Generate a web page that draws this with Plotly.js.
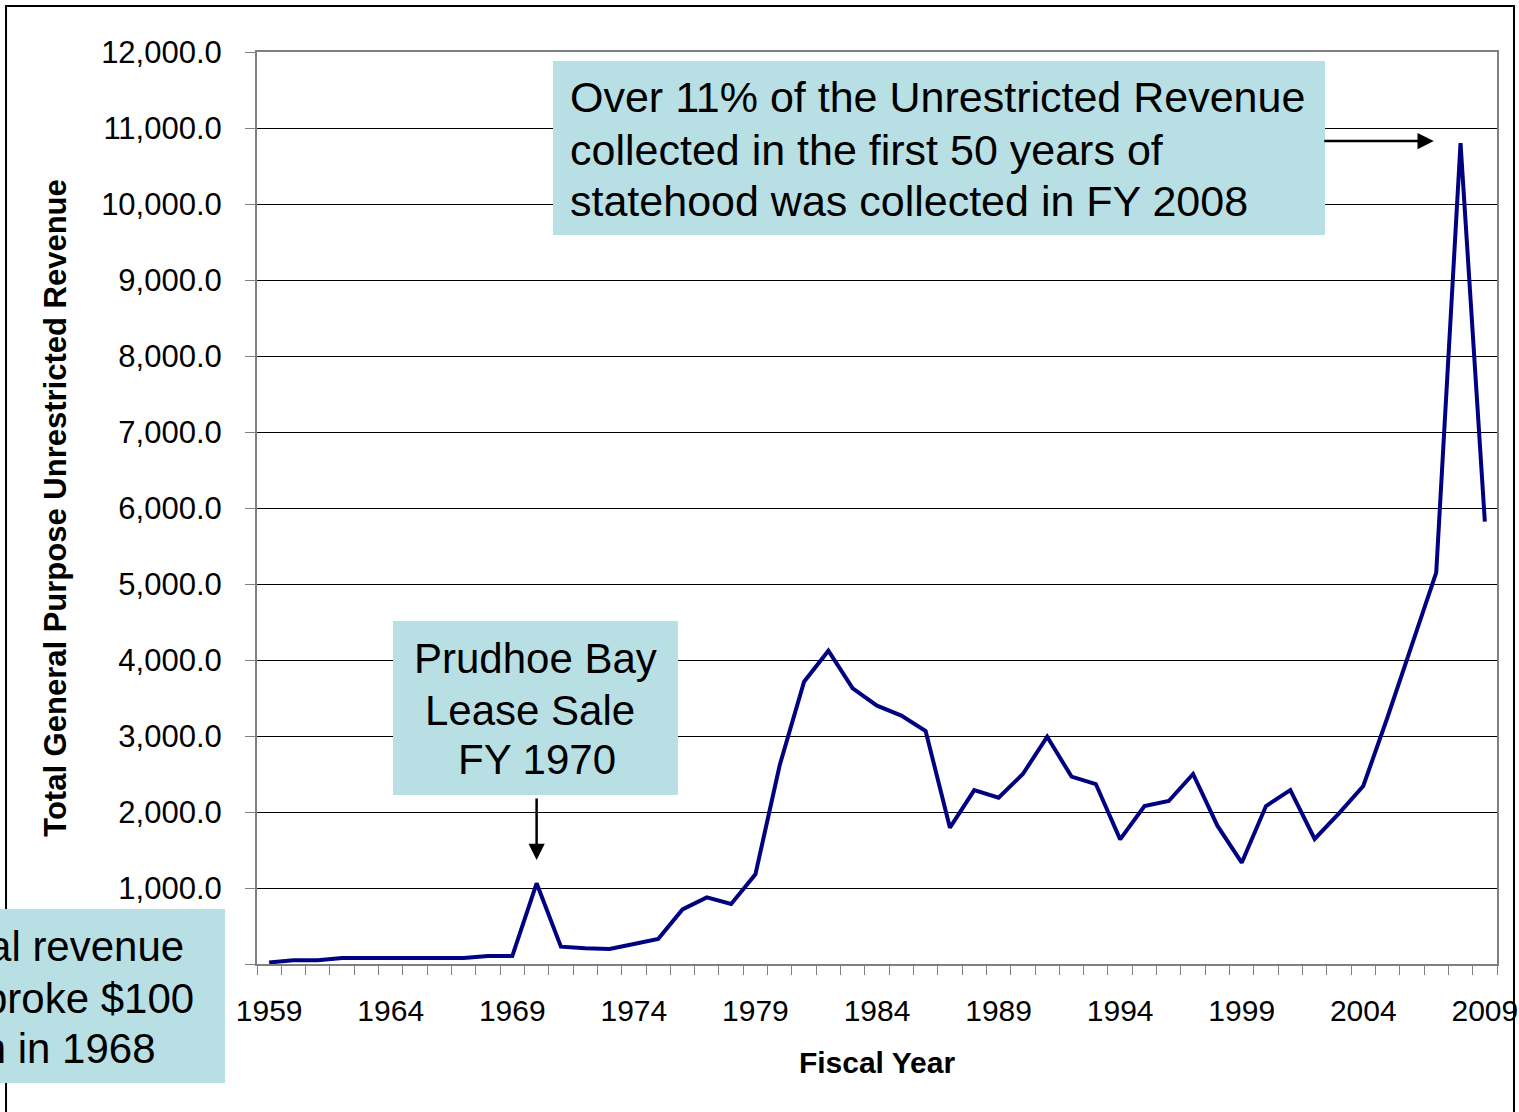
<!DOCTYPE html>
<html>
<head>
<meta charset="utf-8">
<script src="https://cdn.plot.ly/plotly-3.0.1.min.js"></script>
<style>html,body{margin:0;padding:0;background:#fff;}#chart{width:1519px;height:1112px;}</style>
</head>
<body>
<div id="chart"></div>
<script>
const fiscalYears = [1959,1960,1961,1962,1963,1964,1965,1966,1967,1968,1969,1970,1971,1972,1973,1974,1975,1976,1977,1978,1979,1980,1981,1982,1983,1984,1985,1986,1987,1988,1989,1990,1991,1992,1993,1994,1995,1996,1997,1998,1999,2000,2001,2002,2003,2004,2005,2006,2007,2008,2009];
const revenue = [20,50,50,80,80,80,80,80,80,105,105,1062,228,206,197,263,329,719,877,789,1180,2618,3715,4123,3627,3399,3268,3066,1794,2289,2189,2500,2991,2465,2368,1640,2079,2145,2500,1820,1333,2079,2289,1645,1982,2342,3250,4200,5150,10800,5820];
const xTickYears = [1959,1964,1969,1974,1979,1984,1989,1994,1999,2004,2009];
const xTickLabels = ["1959","1964","1969","1974","1979","1984","1989","1994","1999","2004","2009"];

const topNoteLines = ["Over 11% of the Unrestricted Revenue", "collected in the first 50 years of", "statehood was collected in FY 2008"];
const prudhoeLines = ["Prudhoe Bay", "Lease Sale", "FY 1970"];
const leftNoteLines = ["Total revenue", "broke $100", "million in 1968"];

const FONT = "Liberation Sans, Arial, sans-serif";
const BOX = "#B8DFE3";
const noteFont = {family: FONT, size: 42, color: "#000"};
const topFont = {family: FONT, size: 43, color: "#000"};

const trace = {
  x: fiscalYears, y: revenue, type: "scatter", mode: "lines",
  line: {color: "#000080", width: 4}, hoverinfo: "x+y"
};

// line positions (paper coords) for the text boxes
const topY = [0.9507, 0.8925, 0.8366];
const prudX = [0.2246, 0.2202, 0.2256];
const prudY = [0.3355, 0.2785, 0.2237];
const leftX = [-0.0578, -0.0497, -0.0804];
const leftY = [0.0197, -0.0373, -0.0932];

const annotations = [];
topNoteLines.forEach((t, i) => annotations.push({xref: "paper", yref: "paper", x: 0.2516, y: topY[i],
  xanchor: "left", yanchor: "middle", showarrow: false, text: t, font: topFont, borderpad: 0}));
prudhoeLines.forEach((t, i) => annotations.push({xref: "paper", yref: "paper", x: prudX[i], y: prudY[i],
  xanchor: "center", yanchor: "middle", showarrow: false, text: t, font: noteFont, borderpad: 0}));
leftNoteLines.forEach((t, i) => annotations.push({xref: "paper", yref: "paper", x: leftX[i], y: leftY[i],
  xanchor: "right", yanchor: "middle", showarrow: false, text: t, font: noteFont, borderpad: 0}));
annotations.push({xref: "x", yref: "y", x: 1970, y: 1368, ax: 0, ay: -63, text: "", showarrow: true,
  arrowhead: 2, arrowsize: 1.3, arrowwidth: 2.5, arrowcolor: "#000", standoff: 0});
annotations.push({xref: "x", yref: "y", x: 2006.9, y: 10829, ax: -111, ay: 0, text: "", showarrow: true,
  arrowhead: 2, arrowsize: 1.3, arrowwidth: 2.5, arrowcolor: "#000", standoff: 0});

const layout = {
  width: 1519, height: 1112,
  margin: {l: 257, r: 22, t: 52, b: 148},
  paper_bgcolor: "#ffffff", plot_bgcolor: "#ffffff",
  showlegend: false,
  font: {family: FONT, color: "#000"},
  xaxis: {
    range: [1958.5, 2009.5],
    tickmode: "array", tickvals: xTickYears, ticktext: xTickLabels,
    ticks: "outside", ticklen: 9, tickcolor: "rgba(0,0,0,0)", ticklabelstandoff: 10,
    minor: {tick0: 1958.5, dtick: 1, ticks: "outside", ticklen: 9, tickcolor: "#808080", tickwidth: 1, showgrid: false},
    showgrid: false, zeroline: false,
    showline: true, linecolor: "#808080", linewidth: 2, mirror: true,
    tickfont: {family: FONT, size: 30, color: "#000"},
    title: {text: "<b>Fiscal Year</b>", font: {family: FONT, size: 30, color: "#000"}, standoff: 26}
  },
  yaxis: {
    range: [0, 12000], tick0: 0, dtick: 1000, tickformat: ",.1f",
    ticks: "outside", ticklen: 10, tickcolor: "#808080", ticklabelstandoff: 17,
    showgrid: true, gridcolor: "#000", gridwidth: 1,
    zeroline: false, showline: true, linecolor: "#808080", linewidth: 2, mirror: true,
    tickfont: {family: FONT, size: 31, color: "#000"},
    title: {text: "<b>Total General Purpose Unrestricted Revenue</b>", font: {family: FONT, size: 31, color: "#000"}, standoff: 25}
  },
  shapes: [
    {type: "rect", xref: "paper", yref: "paper", x0: -0.2024, x1: 1.0137, y0: -0.25, y1: 1.0504,
     line: {color: "#000", width: 2}, fillcolor: "rgba(0,0,0,0)", layer: "below"},
    {type: "rect", xref: "paper", yref: "paper", x0: 0.2387, x1: 0.8613, y0: 0.7993, y1: 0.9901,
     line: {width: 0}, fillcolor: BOX, layer: "above"},
    {type: "rect", xref: "paper", yref: "paper", x0: 0.1097, x1: 0.3395, y0: 0.1853, y1: 0.3761,
     line: {width: 0}, fillcolor: BOX, layer: "above"},
    {type: "rect", xref: "paper", yref: "paper", x0: -0.25, x1: -0.0258, y0: -0.1305, y1: 0.0603,
     line: {width: 0}, fillcolor: BOX, layer: "above"}
  ],
  annotations: annotations
};

Plotly.newPlot("chart", [trace], layout, {displayModeBar: false, staticPlot: true});
</script>
</body>
</html>
